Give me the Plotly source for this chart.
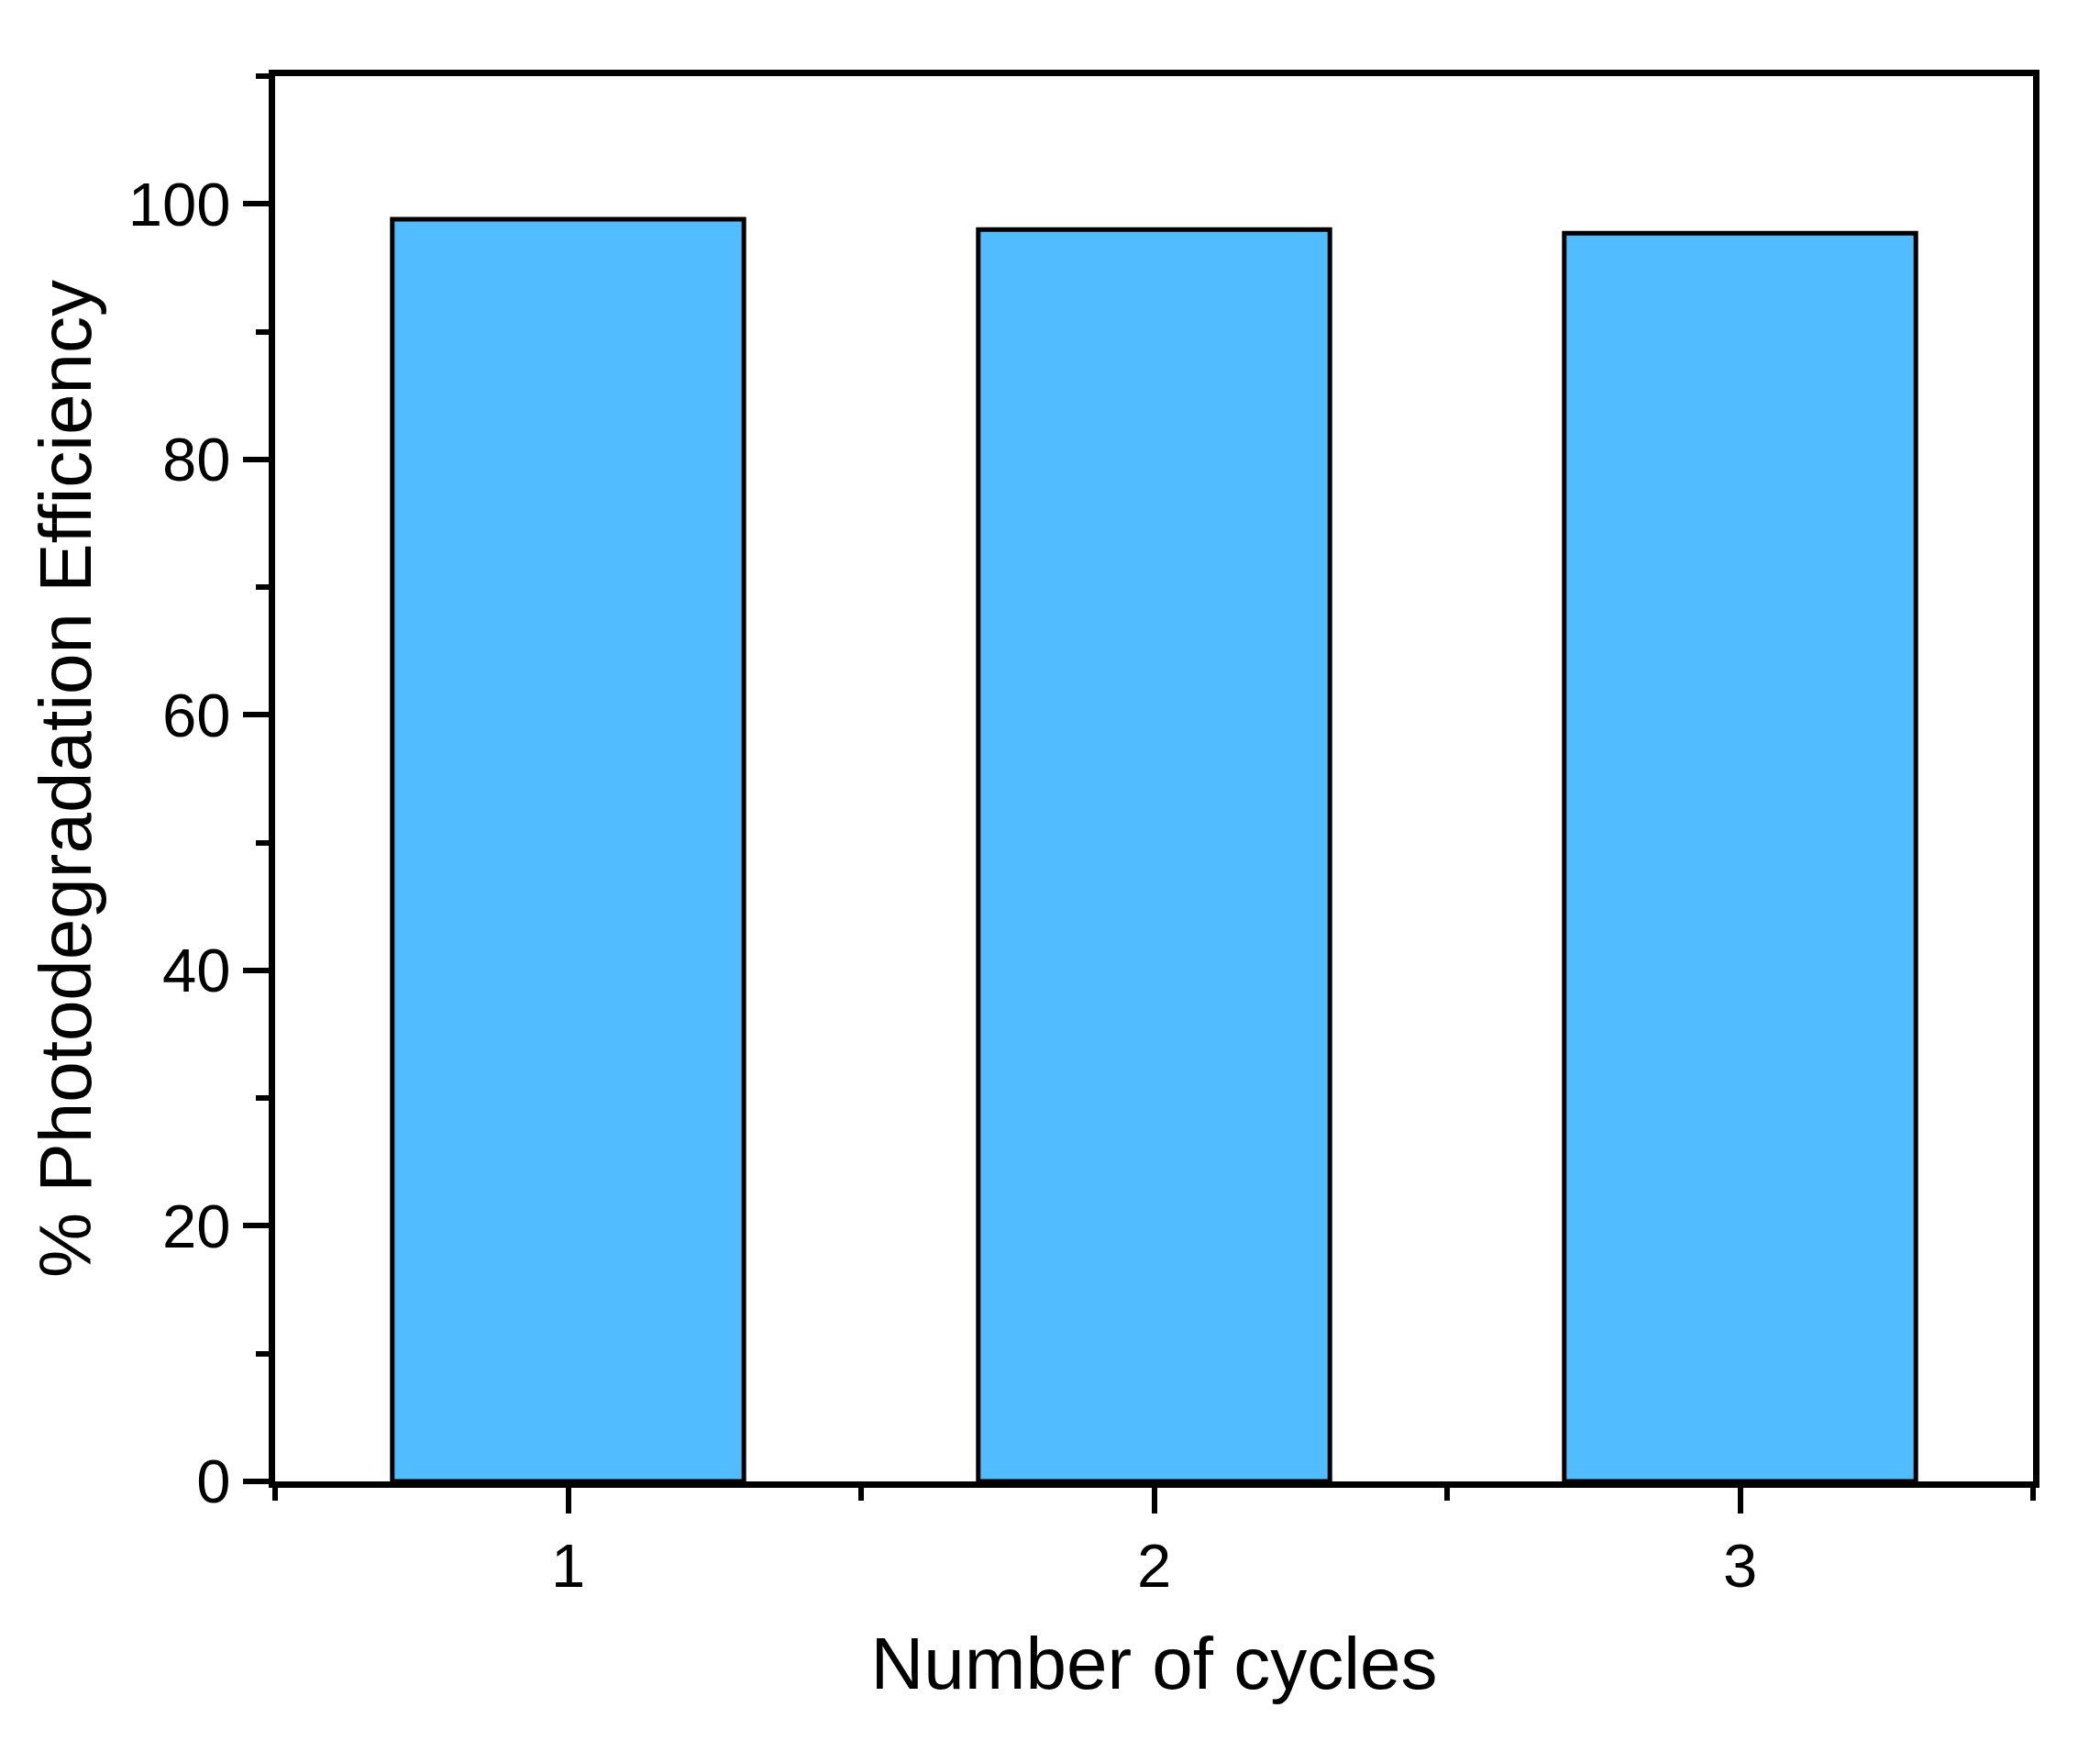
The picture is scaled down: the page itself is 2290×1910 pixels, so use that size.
import plotly.graph_objects as go

cycles = [1, 2, 3]
cycle_labels = ["1", "2", "3"]
efficiency = [98.8, 98.0, 97.7]

y_tick_vals = [0, 20, 40, 60, 80, 100]
x_minor_vals = [0.5, 1.5, 2.5, 3.5]

FONT = "Liberation Sans, Arial, sans-serif"

fig = go.Figure()
fig.add_trace(go.Bar(
    x=cycles,
    y=efficiency,
    width=0.6,
    marker=dict(color="rgb(81,188,255)", line=dict(color="black", width=5)),
    showlegend=False,
))

fig.update_layout(
    width=2290,
    height=1910,
    margin=dict(l=292, r=81, t=75, b=303),
    paper_bgcolor="white",
    plot_bgcolor="white",
    font=dict(family=FONT, color="black", size=67),
    xaxis=dict(
        range=[0.5, 3.5],
        tickmode="array",
        tickvals=cycles,
        ticktext=cycle_labels,
        ticks="outside",
        ticklen=28,
        tickwidth=6,
        tickcolor="black",
        showline=True,
        linewidth=7,
        linecolor="black",
        mirror=True,
        showgrid=False,
        zeroline=False,
        tickfont=dict(size=67, family=FONT),
        minor=dict(tickmode="array", tickvals=x_minor_vals, ticks="outside",
                   ticklen=14, tickwidth=6, tickcolor="black", showgrid=False),
        title=dict(text="Number of cycles", font=dict(size=80, family=FONT), standoff=44),
    ),
    yaxis=dict(
        range=[0, 110],
        tickmode="array",
        tickvals=y_tick_vals,
        ticks="outside",
        ticklen=28,
        tickwidth=6,
        tickcolor="black",
        showline=True,
        linewidth=7,
        linecolor="black",
        mirror=True,
        showgrid=False,
        zeroline=False,
        tickfont=dict(size=67, family=FONT),
        minor=dict(dtick=10, tick0=0, ticks="outside",
                   ticklen=14, tickwidth=6, tickcolor="black", showgrid=False),
        title=dict(text="% Photodegradation Efficiency", font=dict(size=80, family=FONT), standoff=16),
    ),
)

fig.write_html("out.html")
